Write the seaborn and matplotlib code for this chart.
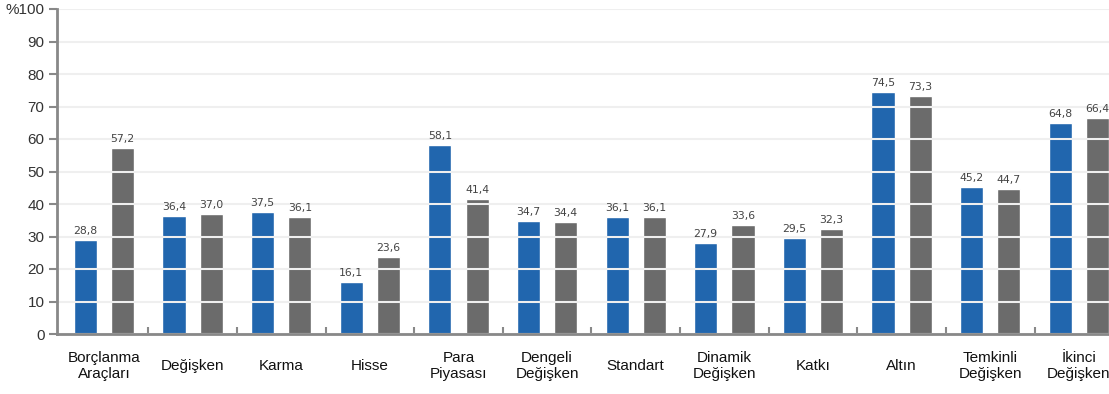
import matplotlib
matplotlib.use("Agg")
import matplotlib.pyplot as plt
import seaborn as sns
import pandas as pd
import numpy as np

categories = ["Borçlanma\nAraçları", "Değişken", "Karma", "Hisse", "Para\nPiyasası",
              "Dengeli\nDeğişken", "Standart", "Dinamik\nDeğişken", "Katkı", "Altın",
              "Temkinli\nDeğişken", "İkinci\nDeğişken"]
series_a = [28.8, 36.4, 37.5, 16.1, 58.1, 34.7, 36.1, 27.9, 29.5, 74.5, 45.2, 64.8]
series_b = [57.2, 37.0, 36.1, 23.6, 41.4, 34.4, 36.1, 33.6, 32.3, 73.3, 44.7, 66.4]
series_names = ["Seri 1", "Seri 2"]
y_ticks = [0, 10, 20, 30, 40, 50, 60, 70, 80, 90, 100]
y_tick_labels = ["0", "10", "20", "30", "40", "50", "60", "70", "80", "90", "%100"]

df = pd.DataFrame({
    "cat": categories * 2,
    "val": series_a + series_b,
    "ser": [series_names[0]] * len(categories) + [series_names[1]] * len(categories),
})

sns.set_theme(style="white")
plt.rcParams["font.family"] = ["Liberation Sans", "DejaVu Sans"]

fig = plt.figure(figsize=(11.09, 3.94), dpi=100)
ax = fig.add_axes([57 / 1109, 60 / 394, 1 - 57 / 1109, (334 - 9) / 394])

sns.barplot(data=df, x="cat", y="val", hue="ser", order=categories,
            palette=["#2166ae", "#6b6b6b"], width=0.84, gap=0.38,
            legend=False, ax=ax, saturation=1, zorder=2)

for cont, vals in zip(ax.containers, [series_a, series_b]):
    ax.bar_label(cont, labels=[f"{v:.1f}".replace(".", ",") for v in vals],
                 padding=3, fontsize=7.8, color="#444444", family="DejaVu Sans")

ax.set_ylim(0, 100)
ax.set_xlim(-0.53, 11.34)
ax.set_yticks(y_ticks)
ax.set_yticklabels(y_tick_labels)
ax.yaxis.grid(True, color="#efefef", linewidth=1.5, zorder=3)
ax.set_axisbelow(False)
for gl in ax.get_ygridlines():
    gl.set_zorder(3)

ax.set_xlabel("")
ax.set_ylabel("")
for s in ["top", "right"]:
    ax.spines[s].set_visible(False)
for s in ["left", "bottom"]:
    ax.spines[s].set_color("#888888")
    ax.spines[s].set_linewidth(2)
    ax.spines[s].set_zorder(4)

ax.tick_params(axis="y", left=True, length=6, width=1.5, color="#888888",
               labelsize=11, labelcolor="#333333", pad=3)
ax.tick_params(axis="x", bottom=False, length=0, labelsize=11, labelcolor="#111111", pad=23)
for lab in ax.get_xticklabels():
    lab.set_va("center")
    lab.set_linespacing(1.15)

ax.set_xticks(np.arange(len(categories) - 1) + 0.5, minor=True)
ax.tick_params(axis="x", which="minor", bottom=True, direction="in", length=5,
               width=1.5, color="#888888")

fig.savefig("out.png", dpi=100)
